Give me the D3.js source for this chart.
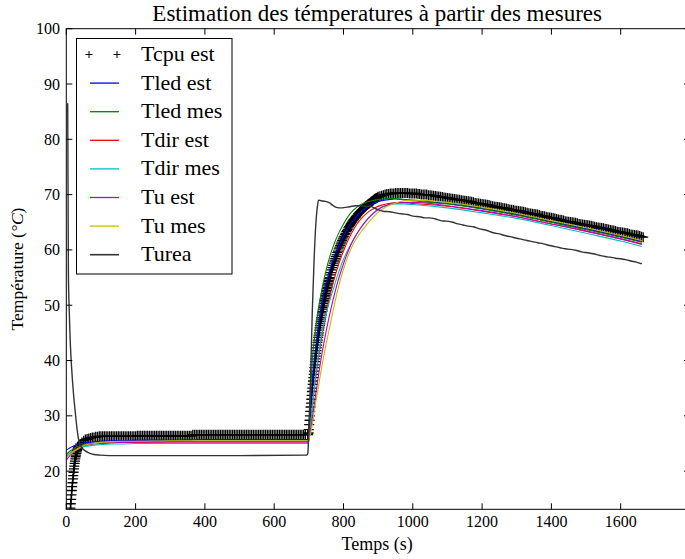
<!DOCTYPE html>
<html><head><meta charset="utf-8">
<script src="https://cdn.jsdelivr.net/npm/d3@7"></script>
<style>
html,body{margin:0;padding:0;background:#fff;}
svg{display:block;font-family:"Liberation Serif","DejaVu Serif",serif;}
</style></head>
<body><svg id="chart" width="685" height="559"></svg>
<script>
// ---------- DATA ----------
const xTicks = [0,200,400,600,800,1000,1200,1400,1600];
const yTicks = [20,30,40,50,60,70,80,90,100];

// Tcpu est (markers) — sampled segments: start time, time step, values
const tcpuStart = {start:12, step:1, values:[13.3,14.1,14.9,15.7,16.5,17.2,17.9,18.6,19.2,19.8,20.4,20.9,21.4,21.8,22.2,22.6,22.9,23.2,23.5,23.7,23.9,24.1,24.3,24.5]};
const tcpuFlat = {start:40, step:5, values:[
 24.9,25.2,25.5,25.7,25.8,25.9,26.0,26.1,26.1,26.2,26.2,26.3,26.3,
 26.3,26.3,26.3,26.3,26.3,26.3,26.3,26.3,26.3,26.3,26.3,26.3,26.3,26.3,26.3,26.3,26.3,26.3,26.3,26.3,
 26.4,26.4,26.4,26.4,26.4,26.4,26.4,26.4,26.4,26.4,26.4,26.4,26.4,26.4,26.4,26.4,26.4,26.4,26.4,26.4,
 26.4,26.4,26.4,26.4,26.4,26.4,26.4,26.4,26.4,26.4,26.4,26.4,
 26.6,26.6,26.6,26.6,26.6,26.6,26.6,26.6,26.6,26.6,26.6,26.6,26.6,26.6,26.6,26.6,26.6,26.6,26.6,26.6,
 26.6,26.6,26.6,26.6,26.6,26.6,26.6,26.6,26.6,26.6,26.6,26.6,26.6,26.6,26.6,26.6,26.6,26.6,26.6,26.6,
 26.6,26.6,26.6,26.6,26.6,26.6,26.6,26.6,26.6,26.6,26.6,26.6,26.6,26.6,26.6,26.6,26.6,26.6,26.6,26.6,
 26.6,26.6,26.6,26.6,26.6,26.6]};
const tcpuRise = {start:697, step:1, values:[
 26.6,26.7,26.9,27.5,28.4,29.2,30.0,30.8,31.6,32.3,33.0,33.7,34.4,35.0,35.7,36.3,36.9,37.5,38.1,38.7,
 39.2,39.8,40.3,40.8,41.3,41.8,42.3,42.8,43.3,43.7,44.2,44.6,45.0,45.5,45.9,46.3,46.7,47.1,47.5,47.8,
 48.2,48.6,48.9,49.3,49.6,49.9,50.3,50.6,50.9,51.2,51.5,51.8,52.1,52.4,52.7,53.0,53.2,53.5,53.8,54.0,
 54.3,54.5,54.8]};
const tcpuBend = {start:760, step:2, values:[
 55.0,55.5,55.9,56.4,56.8,57.2,57.6,58.0,58.4,58.8,59.1,59.5,59.8,60.2,60.5,60.8,61.1,61.4,61.7,62.0,
 62.3,62.5,62.8,63.0,63.3,63.5,63.7,64.0,64.2,64.4,64.6,64.8,65.0,65.2,65.4,65.5,65.7,65.9,66.0,66.2,
 66.3,66.5,66.6,66.8,66.9,67.0,67.2,67.3,67.4,67.5,67.7,67.8,67.9,68.0,68.1,68.2,68.3,68.4,68.5,68.6,
 68.7,68.8,68.9,69.0,69.1,69.2,69.3,69.3,69.4,69.5]};
const tcpuFall = {start:900, step:5, values:[
 69.6,69.7,69.8,69.9,70.0,70.1,70.1,70.2,70.2,70.2,70.3,70.3,70.3,70.3,70.3,70.3,70.3,70.3,70.2,70.2,
 70.2,70.2,70.2,70.1,70.1,70.0,70.0,70.0,70.0,69.9,
 69.9,69.85,69.8,69.75,69.7,69.65,69.6,69.55,69.5,69.45,69.4,69.35,69.3,69.25,69.2,69.15,69.1,69.05,69.0,68.95,
 68.9,68.85,68.8,68.75,68.7,68.6,68.5,68.45,68.4,68.35,68.3,68.25,68.2,68.15,68.1,68.0,67.9,67.85,67.8,67.75,
 67.7,67.65,67.6,67.55,67.5,67.4,67.3,67.25,67.2,67.15,67.1,67.05,67.0,66.95,66.9,66.8,66.7,66.65,66.6,66.55,
 66.5,66.45,66.4,66.3,66.2,66.15,66.1,66.0,65.9,65.85,65.8,65.75,65.7,65.6,65.5,65.45,65.4,65.3,65.2,65.15,
 65.1,65.05,65.0,64.95,64.9,64.8,64.7,64.65,64.6,64.55,64.5,64.45,64.4,64.35,64.3,64.2,64.1,64.05,64.0,63.95,
 63.9,63.85,63.8,63.7,63.6,63.55,63.5,63.4,63.3,63.25,63.2,63.15,63.1,63.05,63.0,62.9,62.8,62.75,62.7,62.65,
 62.6,62.5,62.4,62.3]};
const tcpuSegments = [tcpuStart, tcpuFlat, tcpuRise, tcpuBend, tcpuFall];

// shared time base for the estimated / measured curves
const curveTime = [0,10,20,30,40,50,60,80,100,130,160,200,300,400,500,600,698,705,710,720,730,740,750,760,770,785,800,815,830,850,870,890,910,930,950,975,1000,1100,1200,1300,1400,1500,1600,1661];
const tledEst = [23.8,24.2,24.5,24.8,25.0,25.1,25.2,25.3,25.4,25.5,25.5,25.6,25.6,25.7,25.7,25.7,25.7,32.0,36.5,42.5,47.5,51.3,54.0,56.3,58.2,60.5,62.5,64.2,65.5,66.9,67.8,68.5,68.9,69.1,69.2,69.1,69.0,68.4,67.5,66.4,65.1,63.8,62.4,61.5];
const tledMes = [23.0,23.6,24.0,24.4,24.6,24.8,24.9,25.0,25.1,25.2,25.3,25.3,25.4,25.4,25.4,25.4,25.4,34.5,40.0,45.8,50.2,53.6,56.4,58.7,60.6,62.9,64.7,66.2,67.3,68.2,68.7,69.0,69.2,69.3,69.3,69.1,68.9,68.3,67.4,66.3,65.0,63.7,62.3,61.4];
const tdirEst = [22.6,23.2,23.7,24.1,24.4,24.6,24.7,24.9,25.0,25.1,25.2,25.2,25.3,25.3,25.3,25.3,25.3,28.5,31.5,37.0,41.5,45.3,48.5,51.5,54.0,57.2,59.8,62.0,63.8,65.6,66.8,67.6,68.1,68.4,68.5,68.5,68.4,67.9,67.0,66.0,64.7,63.4,62.0,61.1];
const tdirMes = [22.8,23.2,23.6,23.9,24.2,24.4,24.5,24.7,24.8,24.9,24.9,25.0,25.0,25.0,25.0,25.0,25.0,28.0,31.5,37.5,42.0,45.8,48.5,50.8,52.8,55.8,58.3,60.3,62.0,64.0,65.6,66.9,67.7,68.1,68.3,68.3,68.2,67.6,66.7,65.7,64.4,63.0,61.6,60.6];
const tuEst = [22.0,22.8,23.4,23.9,24.3,24.6,24.8,25.0,25.1,25.2,25.2,25.3,25.3,25.3,25.3,25.3,25.3,27.5,29.5,34.0,38.2,42.0,45.3,48.3,51.0,54.6,57.5,60.0,62.0,64.0,65.6,66.8,67.7,68.2,68.5,68.6,68.6,68.0,67.1,66.0,64.7,63.4,62.0,61.0];
const tuMes = [22.5,23.0,23.5,23.9,24.3,24.6,24.8,25.0,25.2,25.3,25.4,25.4,25.5,25.5,25.5,25.5,25.5,26.8,28.5,32.5,36.2,39.8,43.0,46.0,49.0,53.2,56.5,59.2,61.3,63.2,64.8,66.2,67.3,68.0,68.5,68.9,69.0,68.6,67.7,66.6,65.3,64.0,62.6,61.7];

// Turea (real temperature)
const tureaTime = [4,5,6,8,10,12,15,18,21,25,30,35,40,45,54,65,80,97,150,300,500,694,697,700,705,710,715,720,725,728,735,745,760,770,779,794,805,818,835,847,860,876,895,914,933,950,970,985,1001,1020,1035,1049,1065,1080,1097,1115,1130,1145,1160,1175,1193,1210,1232,1250,1265,1281,1300,1315,1329,1345,1360,1377,1395,1410,1425,1440,1455,1473,1490,1505,1521,1540,1555,1569,1585,1600,1617,1630,1645,1661];
const tureaVal = [86.5,72.0,56.0,50.0,46.0,42.5,39.0,36.2,33.8,31.2,28.2,25.9,24.8,24.2,23.7,23.3,23.0,22.9,22.8,22.8,22.8,22.9,23.2,27.5,37.0,49.0,58.0,64.5,68.0,69.0,68.9,68.8,68.5,68.0,67.7,67.6,67.7,67.8,68.0,68.0,67.9,67.9,67.4,67.0,66.9,66.7,66.5,66.4,66.1,66.0,65.8,65.8,65.6,65.3,65.2,65.0,64.7,64.5,64.3,64.2,63.8,63.6,63.1,62.9,62.6,62.4,62.1,61.9,61.7,61.5,61.3,61.1,60.8,60.6,60.4,60.2,60.1,59.9,59.6,59.5,59.3,59.0,58.8,58.7,58.5,58.4,58.2,58.0,57.8,57.5];

const lineSeries = [
  {name:"Tled est", values:tledEst, color:"#0000ff"},
  {name:"Tled mes", values:tledMes, color:"#008000"},
  {name:"Tdir est", values:tdirEst, color:"#ff0000"},
  {name:"Tdir mes", values:tdirMes, color:"#00bfbf"},
  {name:"Tu est",   values:tuEst,   color:"#bf00bf"},
  {name:"Tu mes",   values:tuMes,   color:"#bfbf00"}
];
const legendNames = ["Tcpu est","Tled est","Tled mes","Tdir est","Tdir mes","Tu est","Tu mes","Turea"];
const legendColors = ["#000","#0000ff","#008000","#ff0000","#00bfbf","#bf00bf","#bfbf00","#333333"];

// ---------- CHART ----------
const svg = d3.select("#chart");
const L = 66.3, R = 690, T = 28.7, B = 509.3;
const x = d3.scaleLinear().domain([0,1800]).range([L,R]);
const y = d3.scaleLinear().domain([13.1,100]).range([B,T]);

svg.append("rect").attr("width",685).attr("height",559).attr("fill","#fff");
svg.append("defs").append("clipPath").attr("id","clip")
  .append("rect").attr("x",L).attr("y",T).attr("width",R-L).attr("height",B-T);

const plot = svg.append("g").attr("clip-path","url(#clip)");

// Tcpu markers
const tcpu = tcpuSegments.flatMap(s=>s.values.map((v,i)=>[s.start+i*s.step, v]));
const ms = 5;
plot.append("g").selectAll("path").data(tcpu).join("path")
  .attr("d",d=>{const px=x(d[0]),py=y(d[1]);return `M${px-ms},${py}H${px+ms}M${px},${py-ms}V${py+ms}`;})
  .attr("stroke","#000").attr("stroke-width",1.3).attr("fill","none");

const line = d3.line().x(d=>x(d[0])).y(d=>y(d[1])).curve(d3.curveMonotoneX);
lineSeries.forEach(s=>{
  plot.append("path").datum(curveTime.map((t,i)=>[t,s.values[i]]))
    .attr("d",line).attr("fill","none").attr("stroke",s.color).attr("stroke-width",1.1);
});
plot.append("path").datum(tureaTime.map((t,i)=>[t,tureaVal[i]]))
  .attr("d",line).attr("fill","none").attr("stroke","#333333").attr("stroke-width",1.4);

// axes frame with inward ticks on all sides
const tl = 6;
const ax = svg.append("g").attr("stroke","#000").attr("stroke-width",1).attr("fill","none");
ax.append("rect").attr("x",L).attr("y",T).attr("width",R-L).attr("height",B-T);
xTicks.forEach(v=>{
  ax.append("line").attr("x1",x(v)).attr("x2",x(v)).attr("y1",B).attr("y2",B-tl);
  ax.append("line").attr("x1",x(v)).attr("x2",x(v)).attr("y1",T).attr("y2",T+tl);
});
yTicks.forEach(v=>{
  ax.append("line").attr("x1",L).attr("x2",L+tl).attr("y1",y(v)).attr("y2",y(v));
  ax.append("line").attr("x1",R).attr("x2",R-tl).attr("y1",y(v)).attr("y2",y(v));
});
svg.append("g").selectAll("text").data(xTicks).join("text")
  .attr("x",d=>x(d)).attr("y",527).attr("text-anchor","middle")
  .attr("font-size",16).attr("fill","#000").text(d=>d);
svg.append("g").selectAll("text").data(yTicks).join("text")
  .attr("x",60).attr("y",d=>y(d)+5.5).attr("text-anchor","end")
  .attr("font-size",16).attr("fill","#000").text(d=>d);

// title and labels
svg.append("text").attr("x",(L+688)/2).attr("y",21).attr("text-anchor","middle")
  .attr("font-size",23).attr("fill","#000").text("Estimation des témperatures à partir des mesures");
svg.append("text").attr("x",(L+688)/2).attr("y",550).attr("text-anchor","middle")
  .attr("font-size",18).attr("fill","#000").text("Temps (s)");
const yl = svg.append("text").attr("transform",`translate(23,${(T+B)/2}) rotate(-90)`)
  .attr("text-anchor","middle").attr("font-size",17.5).attr("fill","#000");
yl.append("tspan").text("Température (");
yl.append("tspan").attr("font-style","italic").text("°C");
yl.append("tspan").text(")");

// legend
const lg = svg.append("g");
lg.append("rect").attr("x",76.5).attr("y",38.5).attr("width",155.5).attr("height",235.5)
  .attr("fill","#fff").attr("stroke","#000").attr("stroke-width",1);
const ly0 = 54.5, ldy = 28.6;
legendNames.forEach((n,i)=>{
  const yy = ly0 + i*ldy;
  if(i===0){
    [89,117].forEach(px=>{
      lg.append("path").attr("d",`M${px-3.5},${yy}H${px+3.5}M${px},${yy-3.5}V${yy+3.5}`)
        .attr("stroke","#000").attr("stroke-width",1).attr("fill","none");
    });
  } else {
    lg.append("line").attr("x1",90).attr("x2",119).attr("y1",yy).attr("y2",yy)
      .attr("stroke",legendColors[i]).attr("stroke-width",i===7?1.6:1.3);
  }
  lg.append("text").attr("x",141).attr("y",yy+6.5).attr("font-size",22).attr("fill","#000").text(n);
});
</script></body></html>
